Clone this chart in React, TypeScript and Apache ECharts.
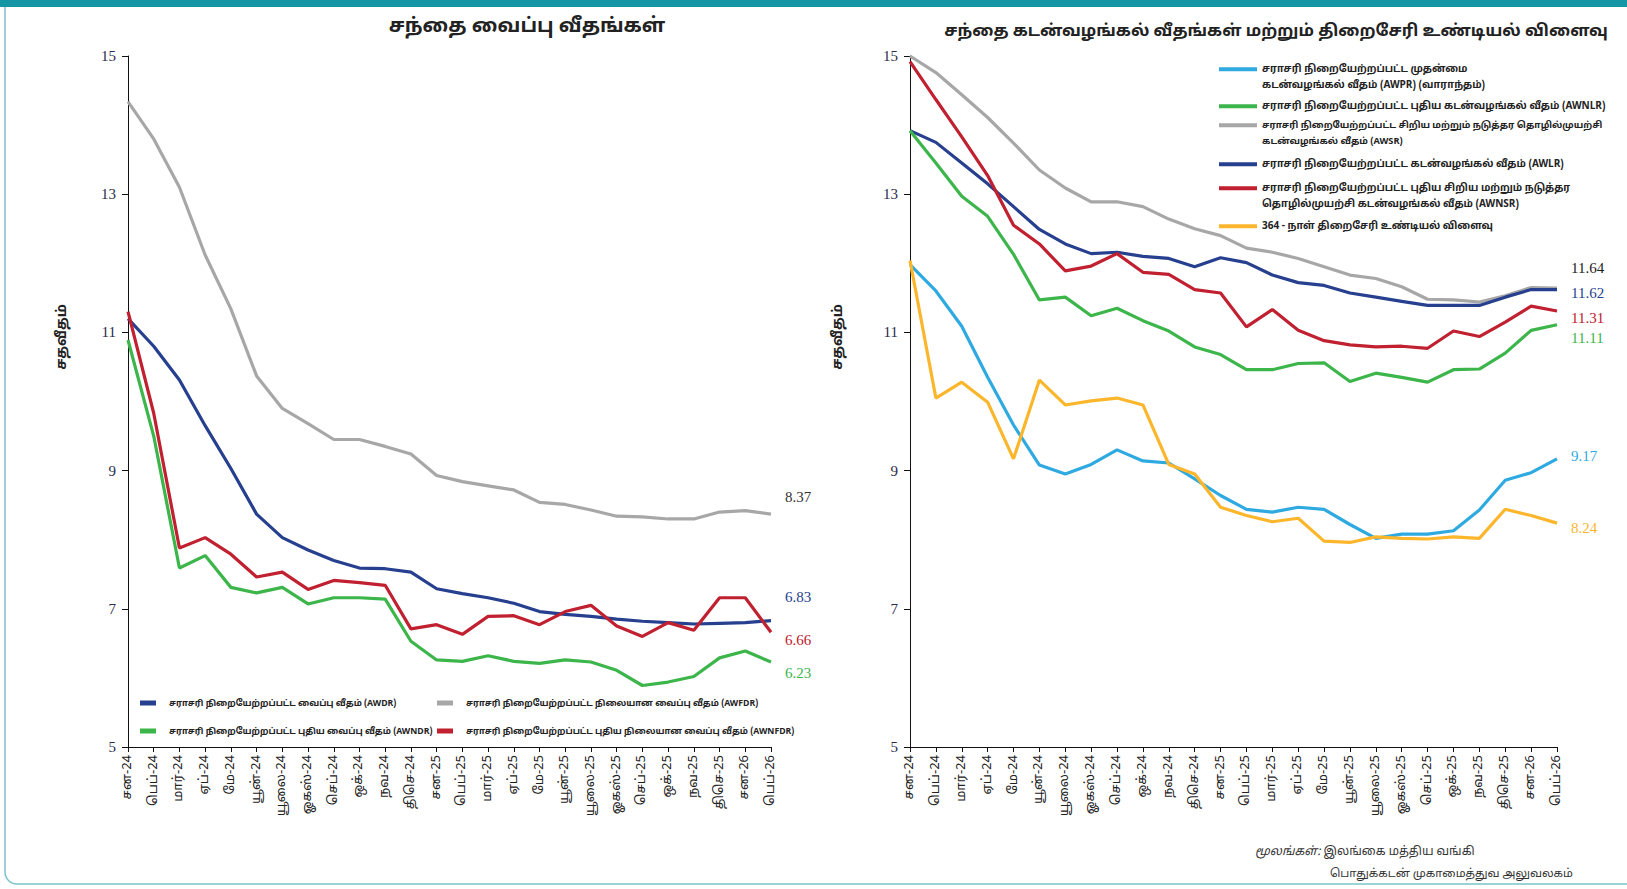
import React, { useEffect, useRef } from 'react';
import * as echarts from 'echarts';

const months: string[] = [
  'சன-24', 'பெப்-24', 'மார்-24', 'ஏப்-24', 'மே-24', 'யூன்-24', 'யூலை-24', 'ஓகஸ்-24', 'செப்-24', 'ஒக்-24', 'நவ-24', 'திசெ-24',
  'சன-25', 'பெப்-25', 'மார்-25', 'ஏப்-25', 'மே-25', 'யூன்-25', 'யூலை-25', 'ஓகஸ்-25', 'செப்-25', 'ஒக்-25', 'நவ-25', 'திசெ-25',
  'சன-26', 'பெப்-26',
];

// Left chart: deposit rates
const awdr = [11.2, 10.8, 10.31, 9.65, 9.03, 8.37, 8.03, 7.85, 7.7, 7.59, 7.58, 7.53, 7.29, 7.22, 7.16, 7.08, 6.96, 6.92, 6.89, 6.85, 6.82, 6.8, 6.78, 6.79, 6.8, 6.83];
const awfdr = [14.34, 13.8, 13.1, 12.12, 11.34, 10.37, 9.9, 9.68, 9.45, 9.45, 9.35, 9.24, 8.93, 8.84, 8.78, 8.72, 8.54, 8.51, 8.43, 8.34, 8.33, 8.3, 8.3, 8.4, 8.42, 8.37];
const awndr = [10.89, 9.5, 7.59, 7.77, 7.31, 7.23, 7.31, 7.07, 7.16, 7.16, 7.14, 6.53, 6.26, 6.24, 6.32, 6.24, 6.21, 6.26, 6.23, 6.11, 5.89, 5.94, 6.02, 6.29, 6.39, 6.23];
const awnfdr = [11.3, 9.83, 7.88, 8.03, 7.79, 7.46, 7.53, 7.28, 7.41, 7.38, 7.34, 6.71, 6.77, 6.63, 6.89, 6.9, 6.77, 6.96, 7.05, 6.75, 6.6, 6.8, 6.69, 7.16, 7.16, 6.66];

// Right chart: lending rates and T-bill yield
const awpr = [11.98, 11.6, 11.09, 10.35, 9.66, 9.08, 8.95, 9.09, 9.3, 9.14, 9.11, 8.88, 8.64, 8.44, 8.4, 8.47, 8.44, 8.22, 8.02, 8.08, 8.08, 8.13, 8.43, 8.86, 8.97, 9.17];
const awnlr = [13.92, 13.45, 12.97, 12.68, 12.13, 11.47, 11.51, 11.24, 11.35, 11.17, 11.02, 10.79, 10.68, 10.46, 10.46, 10.55, 10.56, 10.29, 10.41, 10.35, 10.28, 10.46, 10.47, 10.7, 11.03, 11.11];
const awsr = [15.0, 14.76, 14.44, 14.11, 13.74, 13.35, 13.09, 12.89, 12.89, 12.82, 12.64, 12.5, 12.4, 12.22, 12.16, 12.07, 11.95, 11.83, 11.78, 11.66, 11.48, 11.47, 11.44, 11.53, 11.65, 11.64];
const awlr = [13.92, 13.75, 13.45, 13.15, 12.82, 12.49, 12.28, 12.14, 12.16, 12.1, 12.07, 11.95, 12.08, 12.01, 11.83, 11.72, 11.68, 11.57, 11.51, 11.45, 11.39, 11.39, 11.39, 11.51, 11.62, 11.62];
const awnsr = [14.92, 14.37, 13.83, 13.27, 12.55, 12.28, 11.89, 11.96, 12.14, 11.87, 11.84, 11.62, 11.57, 11.08, 11.33, 11.03, 10.88, 10.82, 10.79, 10.8, 10.77, 11.02, 10.94, 11.15, 11.38, 11.31];
const tbill = [12.04, 10.05, 10.28, 9.99, 9.17, 10.31, 9.95, 10.01, 10.05, 9.95, 9.09, 8.95, 8.47, 8.35, 8.26, 8.31, 7.98, 7.96, 8.04, 8.02, 8.01, 8.04, 8.02, 8.44, 8.35, 8.24];

const leftNames = [
  'சராசரி நிறையேற்றப்பட்ட வைப்பு வீதம் (AWDR)',
  'சராசரி நிறையேற்றப்பட்ட நிலையான வைப்பு வீதம் (AWFDR)',
  'சராசரி நிறையேற்றப்பட்ட புதிய வைப்பு வீதம் (AWNDR)',
  'சராசரி நிறையேற்றப்பட்ட புதிய நிலையான வைப்பு வீதம் (AWNFDR)',
];
const rightNames = [
  'சராசரி நிறையேற்றப்பட்ட முதன்மை\nகடன்வழங்கல் வீதம் (AWPR) (வாராந்தம்)',
  'சராசரி நிறையேற்றப்பட்ட புதிய கடன்வழங்கல் வீதம் (AWNLR)',
  'சராசரி நிறையேற்றப்பட்ட சிறிய மற்றும் நடுத்தர தொழில்முயற்சி\nகடன்வழங்கல் வீதம் (AWSR)',
  'சராசரி நிறையேற்றப்பட்ட கடன்வழங்கல் வீதம் (AWLR)',
  'சராசரி நிறையேற்றப்பட்ட புதிய சிறிய மற்றும் நடுத்தர\nதொழில்முயற்சி கடன்வழங்கல் வீதம் (AWNSR)',
  '364 - நாள் திறைசேரி உண்டியல் விளைவு',
];
const yTitle = 'சதவீதம்';

const C_BLUE = '#263f8e';
const C_GRAY = '#a7a7a7';
const C_GREEN = '#3cb54b';
const C_RED = '#c0202f';
const C_LBLUE = '#2eaae1';
const C_ORANGE = '#fbb62c';

const TAMIL = '"Noto Sans Tamil", "Latha", "Noto Sans", sans-serif';
const SERIF = '"Liberation Serif", "Times New Roman", serif';

// legend icons (a coloured bar plus invisible corner points that fix the box)
const ICON_LEFT = 'path://M0,0H16V5H0Z M23.9,2.4h0.1v0.1h-0.1Z';
const ICON_RIGHT_1 = 'path://M0,0H38V4H0Z';
const ICON_RIGHT_2 = 'path://M0,0h0.1v0.1h-0.1Z M0,6.25H38V10.25H0Z M0,32.9h0.1v0.1h-0.1Z';

function lineSeries(name: string, data: number[], color: string, idx: number, labelColor: string, dy: number) {
  return {
    type: 'line',
    name,
    data,
    xAxisIndex: idx,
    yAxisIndex: idx,
    showSymbol: false,
    symbol: 'none',
    lineStyle: { color, width: 3.2 },
    itemStyle: { color },
    endLabel: {
      show: true,
      formatter: (p: any) => Number(p.value).toFixed(2),
      color: labelColor,
      fontFamily: SERIF,
      fontSize: 15,
      distance: 14,
      offset: [0, dy],
    },
  };
}

function xAxis(gridIndex: number) {
  return {
    type: 'category',
    gridIndex,
    data: months,
    boundaryGap: false,
    axisLine: { show: true, lineStyle: { color: '#111', width: 1 } },
    axisTick: { show: true, alignWithLabel: true, length: 5, lineStyle: { color: '#111' } },
    axisLabel: { rotate: 90, interval: 0, fontSize: 13, color: '#222', fontFamily: TAMIL, margin: 8 },
    splitLine: { show: false },
  };
}

function yAxis(gridIndex: number) {
  return {
    type: 'value',
    gridIndex,
    min: 5,
    max: 15,
    interval: 2,
    axisLine: { show: true, lineStyle: { color: '#111', width: 1 } },
    axisTick: { show: true, length: 6, lineStyle: { color: '#111' } },
    axisLabel: { fontSize: 15, color: '#2a2a4a', fontFamily: SERIF, margin: 12 },
    splitLine: { show: false },
  };
}

function legendAt(name: string, left: number, top: number, icon: string, w: number, h: number, fontSize: number, lineHeight: number) {
  return {
    data: [name],
    left,
    top,
    orient: 'horizontal',
    icon,
    itemWidth: w,
    itemHeight: h,
    itemGap: 0,
    padding: 0,
    selectedMode: false,
    textStyle: { fontSize, color: '#222', fontFamily: TAMIL, fontWeight: 'bold', lineHeight },
  };
}

export default function App() {
  const ref = useRef<HTMLDivElement>(null);
  useEffect(() => {
    if (!ref.current) return;
    const chart = echarts.init(ref.current, null, { renderer: 'svg' });
    const option: any = {
      animation: false,
      backgroundColor: '#ffffff',
      title: [
        {
          text: 'சந்தை வைப்பு வீதங்கள்',
          left: 522,
          top: 12,
          textAlign: 'center',
          textStyle: { fontSize: 20, fontWeight: 'bold', color: '#222', fontFamily: TAMIL },
        },
        {
          text: 'சந்தை கடன்வழங்கல் வீதங்கள் மற்றும் திறைசேரி உண்டியல் விளைவு',
          left: 1271,
          top: 18,
          textAlign: 'center',
          textStyle: { fontSize: 16.5, fontWeight: 'bold', color: '#222', fontFamily: TAMIL },
        },
      ],
      grid: [
        { left: 128, top: 56, width: 643, height: 691 },
        { left: 910, top: 56, width: 647, height: 691 },
      ],
      xAxis: [xAxis(0), xAxis(1)],
      yAxis: [yAxis(0), yAxis(1)],
      legend: [
        legendAt(leftNames[0], 140, 695, ICON_LEFT, 24, 5, 8.7, 16),
        legendAt(leftNames[1], 437, 695, ICON_LEFT, 24, 5, 8.7, 16),
        legendAt(leftNames[2], 140, 723, ICON_LEFT, 24, 5, 8.7, 16),
        legendAt(leftNames[3], 437, 723, ICON_LEFT, 24, 5, 8.7, 16),
        legendAt(rightNames[0], 1219, 61, ICON_RIGHT_2, 38, 33, 10, 16.5),
        legendAt(rightNames[1], 1219, 98, ICON_RIGHT_1, 38, 4, 10, 16.5),
        legendAt(rightNames[2], 1219, 117, ICON_RIGHT_2, 38, 33, 9.2, 16.5),
        legendAt(rightNames[3], 1219, 156, ICON_RIGHT_1, 38, 4, 10, 16.5),
        legendAt(rightNames[4], 1219, 180, ICON_RIGHT_2, 38, 33, 10, 16.5),
        legendAt(rightNames[5], 1219, 218, ICON_RIGHT_1, 38, 4, 10, 16.5),
      ],
      series: [
        lineSeries(leftNames[1], awfdr, C_GRAY, 0, '#333', -17),
        lineSeries(leftNames[0], awdr, C_BLUE, 0, C_BLUE, -24),
        lineSeries(leftNames[2], awndr, C_GREEN, 0, C_GREEN, 11),
        lineSeries(leftNames[3], awnfdr, C_RED, 0, C_RED, 8),
        lineSeries(rightNames[2], awsr, C_GRAY, 1, '#222', -20),
        lineSeries(rightNames[3], awlr, C_BLUE, 1, C_BLUE, 3),
        lineSeries(rightNames[4], awnsr, C_RED, 1, C_RED, 7),
        lineSeries(rightNames[1], awnlr, C_GREEN, 1, C_GREEN, 13),
        lineSeries(rightNames[0], awpr, C_LBLUE, 1, C_LBLUE, -3),
        lineSeries(rightNames[5], tbill, C_ORANGE, 1, C_ORANGE, 5),
      ],
      graphic: [
        {
          type: 'rect',
          silent: true,
          shape: { x: 5, y: -20, width: 1660, height: 904, r: 12 },
          style: { fill: 'none', stroke: '#7cc3c9', lineWidth: 1.5 },
        },
        {
          type: 'rect',
          silent: true,
          shape: { x: 0, y: 0, width: 1627, height: 7 },
          style: { fill: '#1496a4' },
        },
        {
          type: 'text',
          x: 62,
          y: 337,
          rotation: Math.PI / 2,
          style: { text: yTitle, fontSize: 14, fontWeight: 'bold', fill: '#222', fontFamily: TAMIL, align: 'center', verticalAlign: 'middle' },
        },
        {
          type: 'text',
          x: 838,
          y: 337,
          rotation: Math.PI / 2,
          style: { text: yTitle, fontSize: 14, fontWeight: 'bold', fill: '#222', fontFamily: TAMIL, align: 'center', verticalAlign: 'middle' },
        },
        {
          type: 'text',
          left: 1255,
          top: 846,
          style: {
            text: '{i|மூலங்கள்:} இலங்கை மத்திய வங்கி',
            fontSize: 12,
            fill: '#333',
            fontFamily: TAMIL,
            rich: { i: { fontStyle: 'italic', fontSize: 12, fill: '#333', fontFamily: TAMIL } },
          },
        },
        {
          type: 'text',
          left: 1330,
          top: 868,
          style: { text: 'பொதுக்கடன் முகாமைத்துவ அலுவலகம்', fontSize: 11.5, fill: '#333', fontFamily: TAMIL },
        },
      ],
    };
    chart.setOption(option);
    return () => chart.dispose();
  }, []);
  return (
    <div
      ref={ref}
      style={{ position: 'fixed', left: 0, top: 0, width: 1627, height: 889, background: '#fff' }}
    />
  );
}
